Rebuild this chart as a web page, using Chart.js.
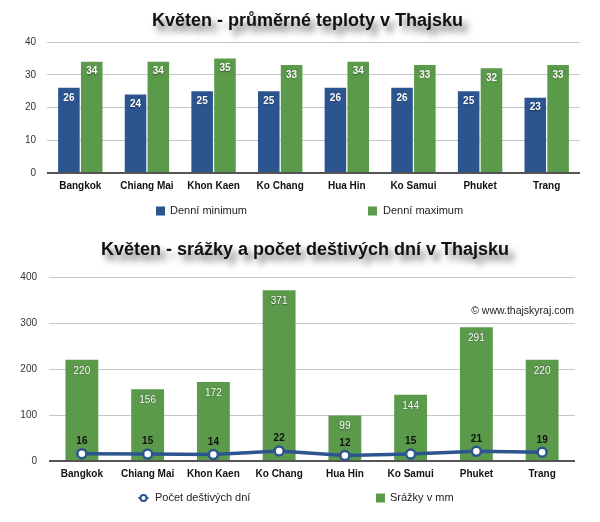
<!DOCTYPE html>
<html><head><meta charset="utf-8">
<script src="https://cdn.jsdelivr.net/npm/chart.js@4/dist/chart.umd.min.js"></script>
<style>
html,body{margin:0;padding:0;background:#fff;}
#wrap{position:relative;width:600px;height:522px;overflow:hidden;}
canvas{position:absolute;left:0;}
</style></head><body>
<div id="wrap">
<canvas id="c1" width="600" height="230" style="top:0"></canvas>
<canvas id="c2" width="600" height="292" style="top:230px"></canvas>
</div>
<script>
const cities = ['Bangkok','Chiang Mai','Khon Kaen','Ko Chang','Hua Hin','Ko Samui','Phuket','Trang'];
const tempMin = [26,24,25,25,26,26,25,23];
const tempMax = [34,34,35,33,34,33,32,33];
const rainMm = [220,156,172,371,99,144,291,220];
const rainDays = [16,15,14,22,12,15,21,19];
const tempTicks = [0,10,20,30,40];
const rainTicks = [0,100,200,300,400];
const title1 = 'Květen - průměrné teploty v Thajsku';
const title2 = 'Květen - srážky a počet deštivých dní v Thajsku';
const credit = '© www.thajskyraj.com';

const BLUE = '#2c5590';
const GREEN = '#5b9a4b';
const FONT = '"Liberation Sans", Arial, Helvetica, sans-serif';
Chart.defaults.font.family = FONT;
Chart.defaults.animation = false;

const titleShadow = {
  id: 'titleShadow',
  beforeDraw(chart, args, opts) {
    const tb = chart.titleBlock;
    if (tb && !tb._patched) {
      const orig = tb.draw;
      tb.draw = function (area) {
        const ctx = chart.ctx;
        ctx.save();
        ctx.translate(opts.dx || 0, 0);
        ctx.shadowColor = 'rgba(0,0,0,0.6)';
        ctx.shadowBlur = 7;
        ctx.shadowOffsetX = 5;
        ctx.shadowOffsetY = 6;
        orig.call(this, area);
        ctx.restore();
      };
      tb._patched = true;
    }
  }
};

const valueLabels = {
  id: 'valueLabels',
  afterDatasetsDraw(chart) {
    const ctx = chart.ctx;
    chart.data.datasets.forEach((ds, di) => {
      const cfg = ds.valueLabel;
      if (!cfg) return;
      const meta = chart.getDatasetMeta(di);
      ctx.save();
      ctx.font = cfg.font;
      ctx.fillStyle = cfg.color;
      ctx.textAlign = 'center';
      ctx.textBaseline = 'middle';
      if (cfg.shadow) {
        ctx.shadowColor = cfg.shadow;
        ctx.shadowBlur = 1.5;
        ctx.shadowOffsetX = 0;
        ctx.shadowOffsetY = 0.5;
      }
      meta.data.forEach((el, i) => {
        ctx.fillText(String(ds.data[i]), el.x, el.y + cfg.dy);
      });
      ctx.restore();
    });
  }
};

const customLegend = {
  id: 'customLegend',
  afterDraw(chart, args, opts) {
    const ctx = chart.ctx;
    ctx.save();
    ctx.font = '11px ' + FONT;
    ctx.textBaseline = 'middle';
    ctx.textAlign = 'left';
    (opts.items || []).forEach(it => {
      const ds = chart.data.datasets[it.ds];
      if (it.kind === 'box') {
        ctx.fillStyle = ds.backgroundColor;
        ctx.fillRect(it.x, it.y - 4.5, 9, 9);
      } else {
        ctx.strokeStyle = ds.borderColor;
        ctx.lineWidth = 2;
        ctx.beginPath();
        ctx.moveTo(it.x - 1, it.y); ctx.lineTo(it.x + 9, it.y); ctx.stroke();
        ctx.fillStyle = '#fff';
        ctx.lineWidth = 2;
        ctx.beginPath();
        ctx.arc(it.x + 4, it.y, 3, 0, Math.PI * 2);
        ctx.fill(); ctx.stroke();
      }
      ctx.fillStyle = '#222';
      ctx.fillText(ds.label, it.x + it.tx, it.y);
    });
    if (opts.credit) {
      ctx.font = '10.5px ' + FONT;
      ctx.textAlign = 'right';
      ctx.fillStyle = '#222';
      ctx.fillText(opts.credit, chart.chartArea.right - 1, chart.chartArea.top + 34);
    }
    ctx.restore();
  }
};

function gridOpts() {
  return {
    drawTicks: false,
    color: c => (c.tick && c.tick.value === 0) ? '#555' : '#c6c6c6',
    lineWidth: c => (c.tick && c.tick.value === 0) ? 2 : 1
  };
}

new Chart(document.getElementById('c1'), {
  type: 'bar',
  data: {
    labels: cities,
    datasets: [
      { label: 'Denní minimum', data: tempMin, backgroundColor: BLUE,
        categoryPercentage: 0.685, barPercentage: 0.945,
        valueLabel: { font: 'bold 10px ' + FONT, color: '#fff', dy: 10, shadow: 'rgba(0,0,0,0.5)' } },
      { label: 'Denní maximum', data: tempMax, backgroundColor: GREEN,
        categoryPercentage: 0.685, barPercentage: 0.945,
        valueLabel: { font: 'bold 10px ' + FONT, color: '#fff', dy: 10, shadow: 'rgba(0,0,0,0.5)' } }
    ]
  },
  options: {
    responsive: false,
    layout: { padding: { left: 0, right: 20, top: 0, bottom: 35 } },
    plugins: {
      legend: { display: false },
      tooltip: { enabled: false },
      title: { display: true, text: title1, color: '#111',
        font: { size: 18, weight: 'bold', lineHeight: 1.2 }, padding: { top: 10, bottom: 10.4 } },
      titleShadow: { dx: 17.5 },
      customLegend: { items: [
        { ds: 0, kind: 'box', x: 156, y: 211, tx: 14 },
        { ds: 1, kind: 'box', x: 368, y: 211, tx: 15 }
      ] }
    },
    scales: {
      x: {
        grid: { display: false, drawTicks: false },
        border: { display: false },
        ticks: { color: '#111', font: { size: 10, weight: 'bold' }, padding: 7, maxRotation: 0, autoSkip: false },
        afterFit: s => { s.height = 22; }
      },
      y: {
        min: 0, max: 40,
        afterBuildTicks: s => { s.ticks = tempTicks.map(v => ({ value: v })); },
        grid: gridOpts(),
        border: { display: false },
        ticks: { color: '#333', font: { size: 10 }, padding: 11 },
        afterFit: s => { s.width = 47; }
      }
    }
  },
  plugins: [titleShadow, valueLabels, customLegend]
});

new Chart(document.getElementById('c2'), {
  type: 'bar',
  data: {
    labels: cities,
    datasets: [
      { type: 'line', label: 'Počet deštivých dní', data: rainDays, order: 0,
        borderColor: BLUE, borderWidth: 3.5, backgroundColor: BLUE,
        pointRadius: 4.5, pointBorderWidth: 2.5, pointBackgroundColor: '#fff', pointBorderColor: BLUE,
        tension: 0, fill: false,
        valueLabel: { font: 'bold 10px ' + FONT, color: '#111', dy: -12.5 } },
      { type: 'bar', label: 'Srážky v mm', data: rainMm, order: 1, backgroundColor: GREEN,
        categoryPercentage: 1.0, barPercentage: 0.5,
        valueLabel: { font: '10px ' + FONT, color: '#fff', dy: 11, shadow: 'rgba(0,0,0,0.5)' } }
    ]
  },
  options: {
    responsive: false,
    layout: { padding: { left: 0, right: 25, top: 0, bottom: 39 } },
    plugins: {
      legend: { display: false },
      tooltip: { enabled: false },
      title: { display: true, text: title2, color: '#111',
        font: { size: 18, weight: 'bold', lineHeight: 1.2 }, padding: { top: 9.2, bottom: 16.2 } },
      titleShadow: { dx: 17.5 },
      customLegend: { credit: credit, items: [
        { ds: 0, kind: 'line', x: 139.5, y: 268, tx: 15.5 },
        { ds: 1, kind: 'box', x: 376, y: 268, tx: 14 }
      ] }
    },
    scales: {
      x: {
        grid: { display: false, drawTicks: false },
        border: { display: false },
        ticks: { color: '#111', font: { size: 10, weight: 'bold' }, padding: 7, maxRotation: 0, autoSkip: false },
        afterFit: s => { s.height = 22; }
      },
      y: {
        min: 0, max: 400,
        afterBuildTicks: s => { s.ticks = rainTicks.map(v => ({ value: v })); },
        grid: gridOpts(),
        border: { display: false },
        ticks: { color: '#333', font: { size: 10 }, padding: 12 },
        afterFit: s => { s.width = 49; }
      }
    }
  },
  plugins: [titleShadow, valueLabels, customLegend]
});
</script>
</body></html>
